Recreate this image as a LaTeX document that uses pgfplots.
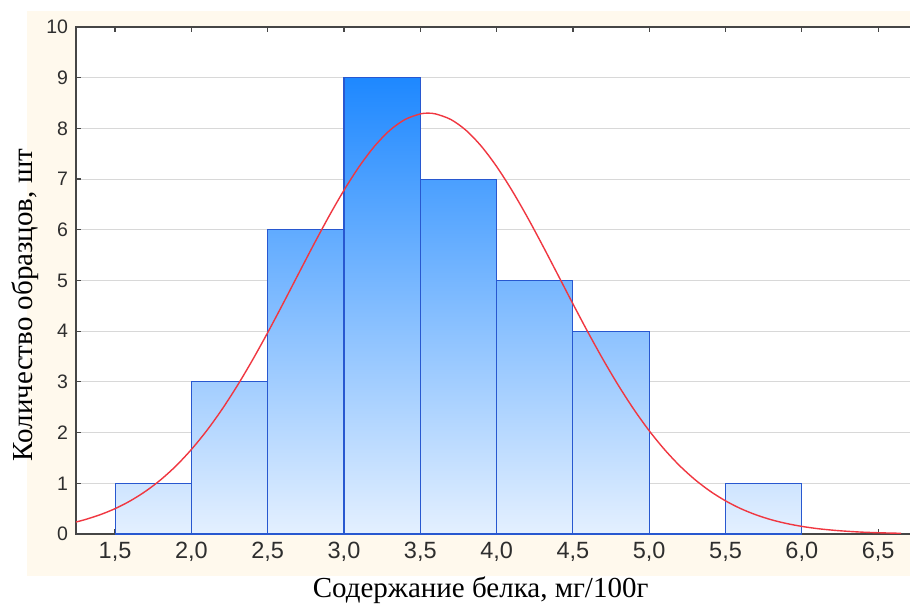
\documentclass[border=0pt]{standalone}
\usepackage{fontspec}
\setmainfont{Liberation Serif}
\newfontfamily\tickfont{Liberation Sans}
\usepackage{pgfplots}
\pgfplotsset{compat=1.18}
\definecolor{beige}{RGB}{255,249,237}
\definecolor{barlow}{RGB}{228,240,255}
\definecolor{barhigh}{RGB}{30,136,255}
\definecolor{baredge}{RGB}{40,88,208}
\definecolor{curvered}{RGB}{240,55,65}
\definecolor{axisgray}{RGB}{70,70,70}
\definecolor{gridgray}{RGB}{216,216,216}
\newif\ifinpp
\begin{document}
\begin{tikzpicture}[x=1pt,y=1pt]
\useasboundingbox (0,0) rectangle (910,605);
\fill[beige] (27,29) rectangle (910,594);
\begin{axis}[
  at={(76pt,71pt)}, anchor=south west,
  scale only axis, width=836pt, height=507pt,
  xmin=1.244, xmax=6.722, ymin=0, ymax=10,
  xtick={1.5,2,2.5,3,3.5,4,4.5,5,5.5,6,6.5},
  ytick={0,1,...,10},
  /pgf/number format/assume math mode=true,
  /pgf/number format/use comma,
  xticklabel style={/pgf/number format/fixed, /pgf/number format/fixed zerofill, /pgf/number format/precision=1,
     font=\tickfont\fontsize{23.5}{25}\selectfont, text=black!82, yshift=-5pt},
  yticklabel style={font=\tickfont\fontsize{19.5}{21}\selectfont, text=black!82, xshift=-4.5pt},
  tick align=inside,
  major tick length=5pt,
  tick style={axisgray, line width=1.2pt},
  ytick pos=left,
  axis line style={axisgray, line width=1.8pt},
  axis background/.style={fill=white},
  ymajorgrids, grid style={gridgray, line width=1pt},
  xlabel={Содержание белка, мг/100г},
  ylabel={Количество образцов, шт},
  xlabel style={font=\fontsize{29}{31}\selectfont, at={(axis description cs:0.484,-0.1105)}, anchor=center},
  ylabel style={font=\fontsize{29}{31}\selectfont, at={(axis description cs:-0.061,0.4517)}, anchor=center},
]
\addplot[ybar interval, draw=baredge, line width=1.1pt,
  path picture={\ifinpp\else\global\inpptrue
    \fill[bottom color=barlow, top color=barhigh, draw=none]
    (path picture bounding box.south west) rectangle ([yshift=456.3pt]path picture bounding box.south east);
    \global\inppfalse\fi}]
  coordinates {(1.5,1) (2.0,3) (2.5,6) (3.0,9) (3.5,7) (4.0,5) (4.5,4) (5.0,0) (5.5,1) (6.0,1)};
\addplot[curvered, line width=1.4pt, smooth, mark=none] coordinates {
(1.244,0.237) (1.3,0.281) (1.4,0.378) (1.5,0.500) (1.6,0.654) (1.7,0.843) (1.8,1.072) (1.9,1.345)
(2.0,1.667) (2.1,2.036) (2.2,2.455) (2.3,2.921) (2.4,3.429) (2.5,3.972) (2.6,4.540) (2.7,5.121)
(2.8,5.699) (2.9,6.258) (3.0,6.780) (3.1,7.249) (3.2,7.648) (3.3,7.961) (3.4,8.176) (3.5,8.286)
(3.55,8.30) (3.6,8.286) (3.7,8.176) (3.8,7.961) (3.9,7.648) (4.0,7.249) (4.1,6.780) (4.2,6.258)
(4.3,5.699) (4.4,5.121) (4.5,4.540) (4.6,3.972) (4.7,3.429) (4.8,2.921) (4.9,2.455) (5.0,2.036)
(5.1,1.667) (5.2,1.345) (5.3,1.072) (5.4,0.843) (5.5,0.654) (5.6,0.500) (5.7,0.378) (5.8,0.281)
(5.9,0.207) (6.0,0.150) (6.1,0.107) (6.2,0.076) (6.3,0.053) (6.4,0.036) (6.5,0.025) (6.6,0.017) (6.65,0.014)};
\end{axis}
\end{tikzpicture}
\end{document}
